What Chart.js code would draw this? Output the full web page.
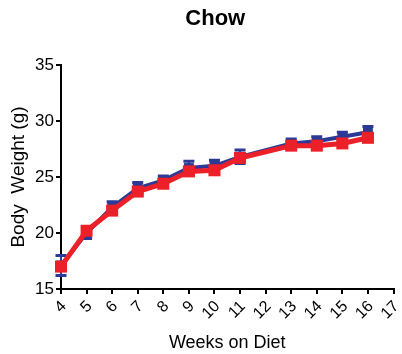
<!DOCTYPE html>
<html>
<head>
<meta charset="utf-8">
<script src="https://cdn.jsdelivr.net/npm/chart.js@4"></script>
<style>
  html, body { margin: 0; padding: 0; background: #fff; }
  #wrap { width: 402px; height: 354px; }
</style>
</head>
<body>
<div id="wrap"><canvas id="c" width="402" height="354"></canvas></div>
<script>
// Weeks on diet (no measurement at week 12)
const weeks = [4, 5, 6, 7, 8, 9, 10, 11, 13, 14, 15, 16];
// Mean body weight (g) and SEM for the two groups
const blueMean = [17.1, 20.0, 22.3, 24.0, 24.7, 25.8, 26.0, 26.8, 28.0, 28.2, 28.6, 29.0];
const blueSem  = [0.9, 0.5, 0.5, 0.5, 0.4, 0.6, 0.5, 0.6, 0.4, 0.4, 0.4, 0.5];
const redMean  = [17.0, 20.2, 22.0, 23.7, 24.4, 25.5, 25.6, 26.7, 27.8, 27.8, 28.0, 28.5];
const redSem   = [0.3, 0.3, 0.3, 0.3, 0.3, 0.3, 0.3, 0.3, 0.3, 0.3, 0.3, 0.3];
const yTicks = [15, 20, 25, 30, 35];
const chartTitle = 'Chow';

const BLUE = '#2c3a96';
const RED = '#ec2029';
const FONT = "'Liberation Sans', Arial, sans-serif";

function points(means) {
  return weeks.map((w, i) => ({ x: w, y: means[i] }));
}

// Draws vertical error bars with caps for each dataset right after it is drawn
const errorBars = {
  id: 'errorBars',
  afterDatasetDraw(chart, args) {
    const ds = chart.data.datasets[args.index];
    if (!ds.sem) return;
    const xs = chart.scales.x, ys = chart.scales.y;
    const ctx = chart.ctx;
    ctx.save();
    ctx.strokeStyle = ds.borderColor;
    ds.data.forEach((p, i) => {
      const px = xs.getPixelForValue(p.x);
      const top = ys.getPixelForValue(p.y + ds.sem[i]);
      const bot = ys.getPixelForValue(p.y - ds.sem[i]);
      ctx.lineWidth = 2;
      ctx.beginPath();
      ctx.moveTo(px, top); ctx.lineTo(px, bot);
      ctx.stroke();
      ctx.lineWidth = 3;
      ctx.beginPath();
      ctx.moveTo(px - 5.5, top); ctx.lineTo(px + 5.5, top);
      ctx.moveTo(px - 5.5, bot); ctx.lineTo(px + 5.5, bot);
      ctx.stroke();
    });
    ctx.restore();
  }
};

// Bold heading, centred a little left of the plot's middle
const heading = {
  id: 'heading',
  afterDraw(chart) {
    const ctx = chart.ctx;
    const a = chart.chartArea;
    ctx.save();
    ctx.fillStyle = '#000';
    ctx.font = 'bold 22px ' + FONT;
    ctx.textAlign = 'center';
    ctx.textBaseline = 'middle';
    ctx.fillText(chartTitle, (a.left + a.right) / 2 - 12, 19);
    ctx.restore();
  }
};

new Chart(document.getElementById('c'), {
  type: 'line',
  data: {
    datasets: [
      {
        label: 'Blue',
        data: points(blueMean),
        sem: blueSem,
        borderColor: BLUE,
        backgroundColor: BLUE,
        borderWidth: 4,
        pointStyle: 'rect',
        pointRadius: 7,
        pointBorderWidth: 0,
        clip: false,
        order: 2
      },
      {
        label: 'Red',
        data: points(redMean),
        sem: redSem,
        borderColor: RED,
        backgroundColor: RED,
        borderWidth: 5,
        pointStyle: 'rect',
        pointRadius: 8.5,
        pointBorderWidth: 0,
        clip: false,
        order: 1
      }
    ]
  },
  options: {
    responsive: false,
    animation: false,
    layout: { padding: { left: 0, right: 2, top: 65, bottom: 0 } },
    plugins: {
      legend: { display: false },
      tooltip: { enabled: false },
      title: { display: false }
    },
    scales: {
      x: {
        type: 'linear',
        min: 4,
        max: 17,
        border: { display: true, color: '#000', width: 2 },
        grid: { display: true, drawOnChartArea: false, drawTicks: true, tickLength: 5, color: '#000', lineWidth: 2 },
        ticks: {
          stepSize: 1,
          autoSkip: false,
          color: '#000',
          minRotation: 45,
          maxRotation: 45,
          padding: 3,
          labelOffset: 3,
          font: { family: FONT, size: 16 }
        },
        title: {
          display: true,
          text: 'Weeks on Diet',
          color: '#000',
          font: { family: FONT, size: 18 },
          padding: { top: 0, bottom: 0 }
        },
        afterFit(scale) {
          scale.height = 65;
          scale.paddingLeft = 0;
          scale.paddingRight = 0;
        }
      },
      y: {
        type: 'linear',
        min: 15,
        max: 35,
        border: { display: true, color: '#000', width: 2 },
        grid: { display: true, drawOnChartArea: false, drawTicks: true, tickLength: 5, color: '#000', lineWidth: 2 },
        afterBuildTicks(scale) { scale.ticks = yTicks.map(v => ({ value: v })); },
        ticks: {
          color: '#000',
          padding: 2,
          font: { family: FONT, size: 17 }
        },
        title: {
          display: true,
          text: 'Body  Weight (g)',
          color: '#000',
          font: { family: FONT, size: 19 },
          padding: { top: 7, bottom: 2 }
        },
        afterFit(scale) {
          scale.width = 61;
          scale.paddingTop = 0;
          scale.paddingBottom = 0;
        }
      }
    }
  },
  plugins: [errorBars, heading]
});
</script>
</body>
</html>
